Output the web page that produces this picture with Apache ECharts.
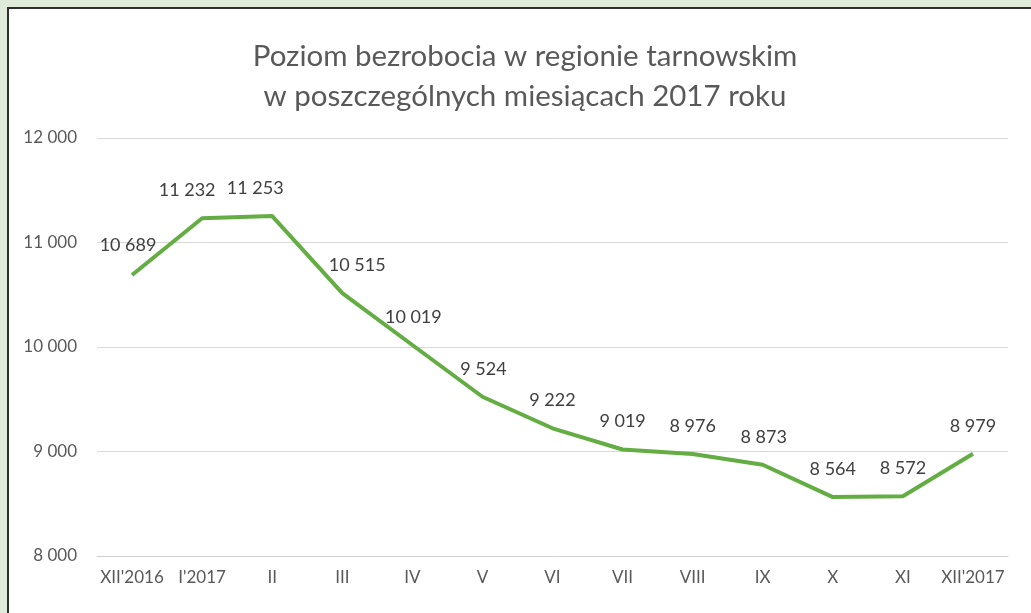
<!DOCTYPE html>
<html>
<head>
<meta charset="utf-8">
<script src="https://cdn.jsdelivr.net/npm/echarts@6/dist/echarts.min.js"></script>
<style>
html, body { margin: 0; padding: 0; width: 1031px; height: 613px; overflow: hidden; background: #dfeada; }
#panel { position: absolute; left: 7px; top: 7px; width: 1022px; height: 604px; background: #fff; border-left: 2px solid #2e2e2e; border-top: 2px solid #2e2e2e; }
#chart { position: absolute; left: 0; top: 0; width: 1031px; height: 613px; }
</style>
</head>
<body>
<div id="panel"></div>
<div id="chart"></div>
<script>
// dane
var months = ["XII'2016", "I'2017", "II", "III", "IV", "V", "VI", "VII", "VIII", "IX", "X", "XI", "XII'2017"];
var unemployed = [10689, 11232, 11253, 10515, 10019, 9524, 9222, 9019, 8976, 8873, 8564, 8572, 8979];
var labelShift = [[-4, -2], [-15, 0], [-17, 0], [15, 0], [1, 0], [1, 0], [0, 0], [0, 0], [0, 0], [1, 0], [0, 0], [0, 0], [0, 0]];

//format liczby ze spacja
function fmt(v){
	return String(v).replace(/\B(?=(\d{3})+(?!\d))/g, " ");
}

var points = [];
for(var i=0; i<unemployed.length; i++){
	points.push({value: unemployed[i], label: {offset: labelShift[i]}});
}

var myChart = echarts.init(document.getElementById('chart'));
myChart.setOption({
	backgroundColor: 'transparent',
	animation: false,
	title: {
		text: "Poziom bezrobocia w regionie tarnowskim\nw poszczególnych miesiącach 2017 roku",
		left: 520,
		textAlign: 'center',
		top: 31,
		textStyle: {fontFamily: 'Lato', fontSize: 29.5, fontWeight: 'normal', color: '#595959', lineHeight: 40}
	},
	grid: {left: 97, right: 23, top: 138, bottom: 57},
	xAxis: {
		type: 'category',
		data: months,
		boundaryGap: true,
		axisLine: {show: true, lineStyle: {color: '#d0d0d0', width: 1}},
		axisTick: {show: false},
		axisLabel: {fontFamily: 'Lato', fontSize: 17, color: '#595959', margin: 13, interval: 0}
	},
	yAxis: {
		type: 'value',
		min: 8000,
		max: 12000,
		interval: 1000,
		axisLine: {show: false},
		axisTick: {show: false},
		splitLine: {lineStyle: {color: '#d9d9d9', width: 1}},
		axisLabel: {fontFamily: 'Lato', fontSize: 17, color: '#595959', margin: 20, formatter: fmt}
	},
	series: [{
		type: 'line',
		data: points,
		symbol: 'circle',
		symbolSize: 0,
		showSymbol: true,
		lineStyle: {color: '#63ad42', width: 4},
		itemStyle: {color: '#63ad42'},
		label: {
			show: true,
			position: 'top',
			distance: 19,
			fontFamily: 'Lato',
			fontSize: 18,
			color: '#404040',
			formatter: function(p){ return fmt(p.value); }
		}
	}]
});
</script>
</body>
</html>
